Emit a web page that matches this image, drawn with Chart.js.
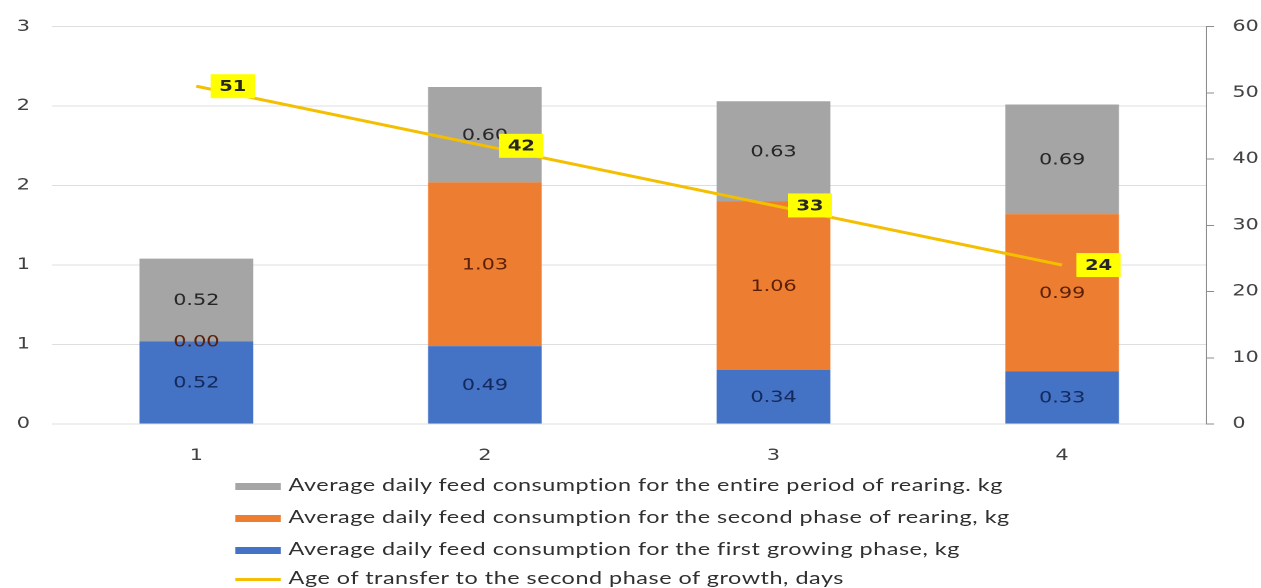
<!DOCTYPE html>
<html>
<head>
<meta charset="utf-8">
<script src="https://cdn.jsdelivr.net/npm/chart.js@4.4.1/dist/chart.umd.min.js"></script>
<style>
  html, body { margin: 0; padding: 0; background: #ffffff; }
  body { width: 1261px; height: 588px; overflow: hidden; position: relative; }
  /* the drawing is laid out on a 970px-wide stage and widened to the full page */
  #stage {
    position: absolute; left: 0; top: 0;
    width: 970px; height: 588px;
    transform: scaleX(1.3); transform-origin: 0 0;
  }
  #chart { position: absolute; left: 0; top: 0; }
  #legend { position: absolute; left: 181px; top: 0; }
  .item {
    position: absolute; left: 0; white-space: nowrap;
    height: 20px; line-height: 20px;
    font-family: Lato, "Open Sans", sans-serif; font-size: 18px;
    letter-spacing: 0.4px; color: #303030;
  }
  .swatch { display: inline-block; width: 35px; vertical-align: middle; margin-right: 6px; }
</style>
</head>
<body>
<div id="stage">
  <canvas id="chart" width="970" height="588"></canvas>
  <div id="legend"></div>
</div>
<script>
// Groups on the category axis
const categories = ['1', '2', '3', '4'];

// Average daily feed consumption, kg (stacked bars, bottom to top)
const firstPhase  = [0.52, 0.49, 0.34, 0.33];
const secondPhase = [0.00, 1.03, 1.06, 0.99];
const wholePeriod = [0.52, 0.60, 0.63, 0.69];

// Age of transfer to the second phase, days (right axis)
const transferAge = [51, 42, 33, 24];

// Left axis tick text (0.5 steps shown with no decimals)
const leftTickLabels = ['0', '1', '1', '2', '2', '3'];

const labelFirst  = 'Average daily feed consumption for the first growing phase, kg';
const labelSecond = 'Average daily feed consumption for the second phase of rearing, kg';
const labelWhole  = 'Average daily feed consumption for the entire period of rearing. kg';
const labelAge    = 'Age of transfer to the second phase of growth, days';

const BLUE = '#4472C4', ORANGE = '#ED7D31', GRAY = '#A5A5A5', GOLD = '#F4BF00';
const TICK_FONT = { family: '"DejaVu Sans", Verdana, sans-serif', size: 16 };

// Value labels: centred in each bar segment, yellow tags beside the line points
const valueLabels = {
  id: 'valueLabels',
  afterDatasetsDraw(chart) {
    const ctx = chart.ctx;
    ctx.save();
    ctx.textAlign = 'center';
    ctx.textBaseline = 'middle';
    chart.data.datasets.forEach((ds, i) => {
      if (ds.type === 'line') return;
      const meta = chart.getDatasetMeta(i);
      ctx.font = '16px "DejaVu Sans", Verdana, sans-serif';
      ctx.fillStyle = ds.labelColor;
      meta.data.forEach((el, j) => {
        const y = (el.y + el.base) / 2;
        ctx.fillText(ds.data[j].toFixed(2), el.x, y + 1);
      });
    });
    chart.data.datasets.forEach((ds, i) => {
      if (ds.type !== 'line') return;
      const meta = chart.getDatasetMeta(i);
      ctx.font = 'bold 15px "DejaVu Sans", Verdana, sans-serif';
      meta.data.forEach((pt, j) => {
        const cx = pt.x + 28, cy = pt.y;
        ctx.fillStyle = '#FFFF00';
        ctx.fillRect(cx - 17, cy - 12, 34, 24);
        ctx.fillStyle = '#262626';
        ctx.fillText(String(ds.data[j]), cx, cy + 1);
      });
    });
    ctx.restore();
  }
};

const chart = new Chart(document.getElementById('chart'), {
  type: 'bar',
  data: {
    labels: categories,
    datasets: [
      { type: 'line', label: labelAge, data: transferAge, yAxisID: 'y1',
        borderColor: GOLD, backgroundColor: GOLD, borderWidth: 3,
        pointRadius: 0, tension: 0, order: 0 },
      { label: labelFirst, data: firstPhase, backgroundColor: BLUE,
        labelColor: '#13295c', yAxisID: 'y', order: 1 },
      { label: labelSecond, data: secondPhase, backgroundColor: ORANGE,
        labelColor: '#5a1f08', yAxisID: 'y', order: 1 },
      { label: labelWhole, data: wholePeriod, backgroundColor: GRAY,
        labelColor: '#262626', yAxisID: 'y', order: 1 }
    ]
  },
  options: {
    responsive: false,
    animation: false,
    devicePixelRatio: 2,
    layout: { padding: { top: 20, bottom: 125, left: 0, right: 0 } },
    datasets: { bar: { categoryPercentage: 1, barPercentage: 0.394 } },
    plugins: { legend: { display: false }, tooltip: { enabled: false } },
    scales: {
      x: {
        stacked: true,
        grid: { display: false },
        border: { display: false },
        ticks: { color: '#404040', font: TICK_FONT, padding: 14 },
        afterFit(scale) { scale.height = 39; }
      },
      y: {
        stacked: true, position: 'left', min: 0, max: 2.5,
        grid: { color: '#DEDEDE', lineWidth: 1, drawTicks: false },
        border: { display: false },
        ticks: {
          stepSize: 0.5, color: '#404040', font: TICK_FONT, padding: 17,
          callback: (v, idx) => leftTickLabels[idx]
        },
        afterFit(scale) { scale.width = 40; }
      },
      y1: {
        position: 'right', min: 0, max: 60,
        grid: { drawOnChartArea: false, tickLength: 6, color: '#8C8C8C' },
        border: { display: true, color: '#8C8C8C', width: 1 },
        ticks: { stepSize: 10, color: '#404040', font: TICK_FONT, padding: 14 },
        afterFit(scale) { scale.width = 42; }
      }
    }
  },
  plugins: [valueLabels]
});

// Legend list under the plot, built from the chart's datasets
const legendOrder = [3, 2, 1, 0];
const rowCenters = [484, 516, 548, 577];
const legendBox = document.getElementById('legend');
legendOrder.forEach((dsIndex, r) => {
  const ds = chart.data.datasets[dsIndex];
  const row = document.createElement('div');
  row.className = 'item';
  row.style.top = (rowCenters[r] - 10) + 'px';
  const sw = document.createElement('span');
  sw.className = 'swatch';
  if (ds.type === 'line') {
    sw.style.height = '3px';
    sw.style.background = ds.borderColor;
  } else {
    sw.style.height = '7px';
    sw.style.background = ds.backgroundColor;
  }
  row.appendChild(sw);
  row.appendChild(document.createTextNode(ds.label));
  legendBox.appendChild(row);
});
</script>
</body>
</html>
